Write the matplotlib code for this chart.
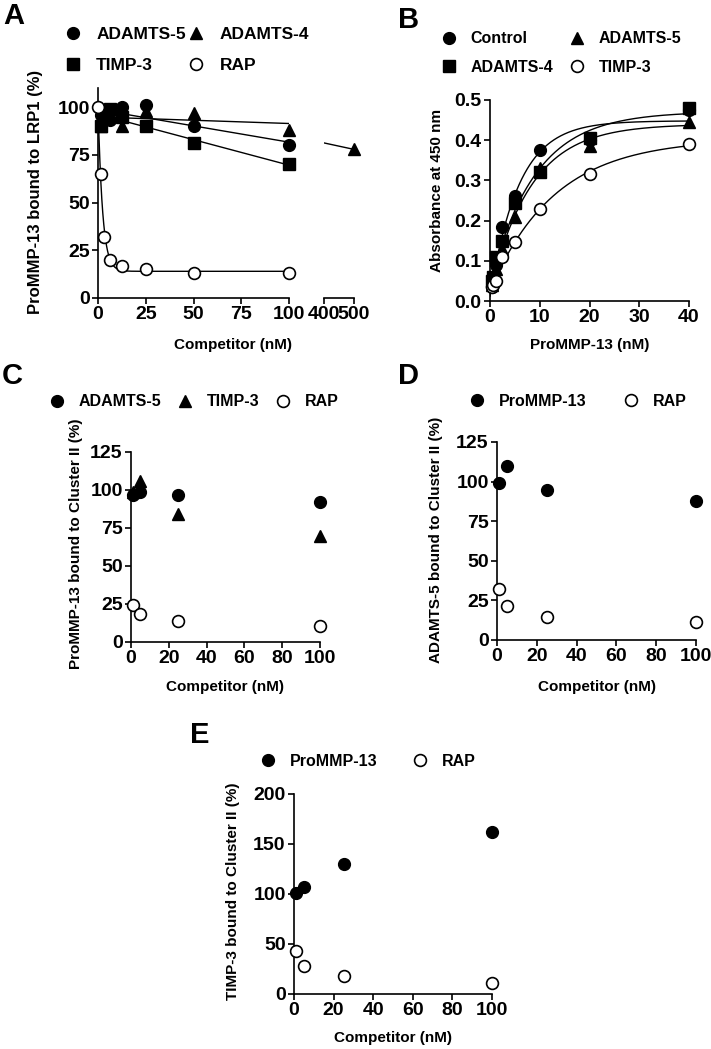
import numpy as np
import matplotlib.pyplot as plt
from matplotlib.lines import Line2D

plt.rcParams['font.family'] = ['Liberation Sans', 'DejaVu Sans']
plt.rcParams['font.weight'] = 'bold'
plt.rcParams['axes.labelweight'] = 'bold'

# ---- panel A: proMMP-13 bound to LRP1 ----
a_x5 = [1.56, 3.125, 6.25, 12.5, 25, 50, 100]
a_adamts5 = [96, 97, 93, 100, 101, 90, 80]
a_x4 = [1.56, 6.25, 12.5, 25, 50, 100, 500]
a_adamts4 = [90, 99, 90, 98, 97, 88, 78]
a_xt = [1.56, 3.125, 6.25, 12.5, 25, 50, 100]
a_timp3 = [90, 96, 99, 95, 90, 81, 70]
a_xr = [0, 1.56, 3.125, 6.25, 12.5, 25, 50, 100]
a_rap = [100, 65, 32, 20, 17, 15, 13, 13]

# ---- panel B: binding curves ----
b_x = [0.3125, 0.625, 1.25, 2.5, 5, 10, 20, 40]
b_control = [0.035, 0.05, 0.09, 0.185, 0.26, 0.375, 0.40, 0.475]
b_adamts5 = [0.04, 0.06, 0.08, 0.13, 0.21, 0.33, 0.385, 0.445]
b_adamts4 = [0.05, 0.06, 0.11, 0.15, 0.245, 0.32, 0.405, 0.48]
b_timp3 = [0.035, 0.04, 0.05, 0.11, 0.148, 0.228, 0.315, 0.39]

# ---- panels C, D, E: competition on cluster II ----
cde_x = [1, 5, 25, 100]
c_adamts5 = [97, 99, 97, 92]
c_timp3 = [99, 106, 84.5, 69.5]
c_rap = [24.5, 18.5, 13.5, 10.5]
d_prommp13 = [99, 110, 95, 88]
d_rap = [32, 21.5, 14.5, 11.6]
e_prommp13 = [101, 107, 130, 162]
e_rap = [43, 28.5, 18.5, 11.5]

W, H = 711, 1049
fig = plt.figure(figsize=(W / 100, H / 100), dpi=100)

TICK_FS = 14
LAB_FS = 11
LEG_FS = 11.5


def px_axes(left, right, top, bottom):
    return fig.add_axes([left / W, 1 - bottom / H, (right - left) / W, (bottom - top) / H])


def style(ax, fs=TICK_FS):
    for s in ['top', 'right']:
        ax.spines[s].set_visible(False)
    for s in ['left', 'bottom']:
        ax.spines[s].set_linewidth(1.2)
    ax.tick_params(direction='out', length=4.5, width=1.2, labelsize=fs, pad=1.5)
    for lab in ax.get_xticklabels() + ax.get_yticklabels():
        lab.set_fontweight('bold')


def fit_exp(x, y):
    # y = a + b*exp(-k x), simple grid over k with linear least squares
    x = np.asarray(x, float)
    y = np.asarray(y, float)
    best = None
    for k in np.logspace(-3, 1, 3000):
        A = np.column_stack([np.ones_like(x), np.exp(-k * x)])
        coef, res, _, _ = np.linalg.lstsq(A, y, rcond=None)
        r = np.sum((A @ coef - y) ** 2)
        if best is None or r < best[0]:
            best = (r, k, coef)
    _, k, (a, b) = best
    return lambda t: a + b * np.exp(-k * t)


def filled(ax, x, y, m='o', ms=8.5):
    ax.plot(x, y, m, color='black', ms=ms, clip_on=False, zorder=3)


def hollow(ax, x, y, ms=8.5):
    ax.plot(x, y, 'o', mfc='white', mec='black', mew=1.2, ms=ms, clip_on=False, zorder=4)


def handle(m, open_=False):
    if open_:
        return Line2D([], [], ls='none', marker='o', mfc='white', mec='black', mew=1.2, ms=8.5)
    return Line2D([], [], ls='none', marker=m, color='black', ms=8.5 if m != '^' else 9)


def legend(ax, handles, labels, x, y, ncol, colsp, fs=LEG_FS, lsp=0.5):
    ax.legend(handles, labels, loc='center left', bbox_to_anchor=(x / W, 1 - y / H),
              bbox_transform=fig.transFigure, ncol=ncol, frameon=False,
              handlelength=1.0, handletextpad=0.85, columnspacing=colsp,
              borderpad=0, borderaxespad=0, labelspacing=lsp,
              prop={'weight': 'bold', 'size': fs})


def txt(x, y, s, fs=LAB_FS, rot=0):
    fig.text(x / W, 1 - y / H, s, fontsize=fs, fontweight='bold', rotation=rot,
             ha='center', va='center')


# ================= A =================
axA = px_axes(98, 289, 88, 298)
axA2 = px_axes(324, 354, 88, 298)
lin5 = np.polyfit(a_x5, a_adamts5, 1)
lin4 = np.polyfit(a_x4, a_adamts4, 1)
lint = np.polyfit(a_xt, a_timp3, 1)
rap_fit = fit_exp(a_xr, a_rap)
xs = np.linspace(min(a_x5), 100, 50)
axA.plot(xs, np.polyval(lin5, xs), color='black', lw=1)
axA.plot(xs, np.polyval(lin4, xs), color='black', lw=1)
axA.plot(xs, np.polyval(lint, xs), color='black', lw=1)
xr = np.linspace(0, 100, 400)
axA.plot(xr, rap_fit(xr), color='black', lw=1)
filled(axA, a_x5, a_adamts5, 'o')
filled(axA, a_xt, a_timp3, 's', 8)
filled(axA, a_x4[:-1], a_adamts4[:-1], '^', 9)
hollow(axA, a_xr, a_rap)
axA.set_xlim(0, 100)
axA.set_ylim(0, 110)
axA.set_xticks([0, 25, 50, 75, 100])
axA.set_yticks([0, 25, 50, 75, 100])
style(axA)

xs2 = np.linspace(400, 500, 20)
axA2.plot(xs2, np.polyval(lin4, xs2), color='black', lw=1)
filled(axA2, a_x4[-1:], a_adamts4[-1:], '^', 9)
axA2.set_xlim(400, 500)
axA2.set_ylim(0, 110)
axA2.set_xticks([400, 500])
axA2.set_yticks([])
style(axA2)
axA2.spines['left'].set_visible(False)

legend(axA, [handle('o'), handle('s'), handle('^'), handle('o', True)],
       ['ADAMTS-5', 'TIMP-3', 'ADAMTS-4', 'RAP'], 64, 50, 2, 0.1, fs=12.5, lsp=0.9)
txt(233, 345, 'Competitor (nM)')
txt(36, 192, 'ProMMP-13 bound to LRP1 (%)', fs=12, rot=90)
fig.text(3 / W, 1 - 2 / H, 'A', fontsize=21, fontweight='bold', va='top', ha='left')

# ================= B =================
axB = px_axes(490, 689, 100, 301)
xb = np.linspace(0, 40, 300)
for yv in [b_control, b_adamts5, b_adamts4, b_timp3]:
    f = fit_exp(b_x, yv)
    axB.plot(xb, f(xb), color='black', lw=1)
filled(axB, b_x, b_control, 'o')
filled(axB, b_x, b_adamts5, '^', 9)
filled(axB, b_x, b_adamts4, 's', 8)
hollow(axB, b_x, b_timp3)
axB.set_xlim(0, 40)
axB.set_ylim(0, 0.5)
axB.set_xticks([0, 10, 20, 30, 40])
axB.set_yticks([0, 0.1, 0.2, 0.3, 0.4, 0.5])
axB.set_yticklabels(['0.0', '0.1', '0.2', '0.3', '0.4', '0.5'])
style(axB)
legend(axB, [handle('o'), handle('s'), handle('^'), handle('o', True)],
       ['Control', 'ADAMTS-4', 'ADAMTS-5', 'TIMP-3'], 441, 53, 2, 1.0, lsp=0.85)
txt(590, 345, 'ProMMP-13 (nM)')
txt(437, 190, 'Absorbance at 450 nm', rot=90)
fig.text(398 / W, 1 - 6 / H, 'B', fontsize=21, fontweight='bold', va='top', ha='left')

# ================= C =================
axC = px_axes(131, 320, 452, 642)
filled(axC, cde_x, c_timp3, '^', 9)
filled(axC, cde_x, c_adamts5, 'o')
hollow(axC, cde_x, c_rap)
axC.set_xlim(0, 100)
axC.set_ylim(0, 125)
axC.set_xticks([0, 20, 40, 60, 80, 100])
axC.set_yticks([0, 25, 50, 75, 100, 125])
style(axC)
legend(axC, [handle('o'), handle('^'), handle('o', True)],
       ['ADAMTS-5', 'TIMP-3', 'RAP'], 49, 402, 3, 1.0, fs=11.5)
txt(225, 687, 'Competitor (nM)')
txt(76, 544, 'ProMMP-13 bound to Cluster II (%)', rot=90)
fig.text(2 / W, 1 - 362 / H, 'C', fontsize=21, fontweight='bold', va='top', ha='left')

# ================= D =================
axD = px_axes(497, 696, 442, 640)
filled(axD, cde_x, d_prommp13, 'o')
hollow(axD, cde_x, d_rap)
axD.set_xlim(0, 100)
axD.set_ylim(0, 125)
axD.set_xticks([0, 20, 40, 60, 80, 100])
axD.set_yticks([0, 25, 50, 75, 100, 125])
style(axD)
legend(axD, [handle('o'), handle('o', True)], ['ProMMP-13', 'RAP'], 469, 401, 2, 2.3)
txt(597, 687, 'Competitor (nM)')
txt(436, 540, 'ADAMTS-5 bound to Cluster II (%)', rot=90)
fig.text(398 / W, 1 - 362 / H, 'D', fontsize=21, fontweight='bold', va='top', ha='left')

# ================= E =================
axE = px_axes(294, 492, 794, 994)
filled(axE, cde_x, e_prommp13, 'o')
hollow(axE, cde_x, e_rap)
axE.set_xlim(0, 100)
axE.set_ylim(0, 200)
axE.set_xticks([0, 20, 40, 60, 80, 100])
axE.set_yticks([0, 50, 100, 150, 200])
style(axE)
legend(axE, [handle('o'), handle('o', True)], ['ProMMP-13', 'RAP'], 260, 761, 2, 2.2)
txt(393, 1038, 'Competitor (nM)')
txt(233, 891, 'TIMP-3 bound to Cluster II (%)', rot=90)
fig.text(190 / W, 1 - 721 / H, 'E', fontsize=21, fontweight='bold', va='top', ha='left')

fig.savefig('out.png', dpi=100)
